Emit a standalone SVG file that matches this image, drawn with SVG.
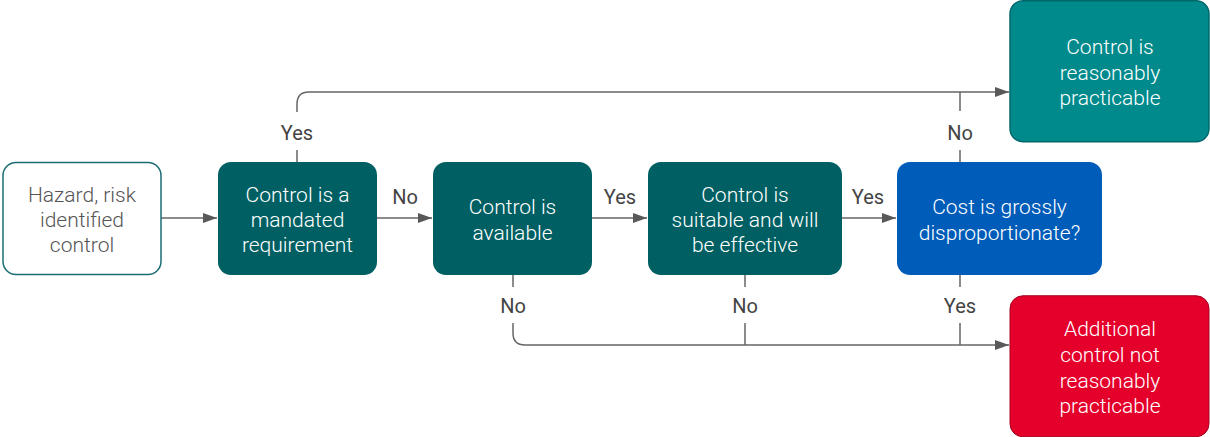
<svg xmlns="http://www.w3.org/2000/svg" width="1210" height="437" viewBox="0 0 1210 437">
<defs>
<marker id="arr" viewBox="0 0 14 10" refX="14" refY="5" markerWidth="14" markerHeight="10" markerUnits="userSpaceOnUse" orient="auto">
<path d="M0,0 L14,5 L0,10 z" fill="#595959"/>
</marker>
<style>
.n text{font-family:Roboto,"Liberation Sans",sans-serif;font-weight:300;font-size:21px;text-anchor:middle;fill:#ffffff}
.dark rect{fill:#005f63}
.c path{fill:none;stroke:#666;stroke-width:1.5}
.lbl{font-family:Roboto,"Liberation Sans",sans-serif;font-size:20px;text-anchor:middle;fill:#444}
</style>
</defs>
<rect width="1210" height="437" fill="#ffffff"/>
<g class="c" id="connectors">
<path d="M161,218 H217" marker-end="url(#arr)"/>
<path d="M377,218 H432" marker-end="url(#arr)"/>
<path d="M592,218 H647" marker-end="url(#arr)"/>
<path d="M842,218 H896" marker-end="url(#arr)"/>
<path d="M297,162 V150 M297,112 V104 Q297,92 309,92 H1009" marker-end="url(#arr)"/>
<path d="M960,162 V150 M960,111 V92"/>
<path d="M513,275 V287 M513,323 V333 Q513,345 525,345 H1009" marker-end="url(#arr)"/>
<path d="M745,275 V287 M745,323 V345"/>
<path d="M960,275 V287 M960,323 V345"/>
<text class="lbl" x="297" y="140">Yes</text>
<text class="lbl" x="960" y="140">No</text>
<text class="lbl" x="405" y="204">No</text>
<text class="lbl" x="620" y="204">Yes</text>
<text class="lbl" x="868" y="204">Yes</text>
<text class="lbl" x="513" y="313">No</text>
<text class="lbl" x="745" y="313">No</text>
<text class="lbl" x="960" y="313">Yes</text>
</g>
<g class="n" id="start">
<rect x="3" y="162.5" width="158" height="112" rx="13" fill="#ffffff" stroke="#1a6d73" stroke-width="1.5"/>
<text x="82" y="202" style="fill:#555">Hazard, risk</text>
<text x="82" y="227" style="fill:#555">identified</text>
<text x="82" y="252" style="fill:#555">control</text>
</g>
<g class="n dark" id="mandated">
<rect x="218" y="162" width="159" height="113" rx="13"/>
<text x="297.5" y="202">Control is a</text>
<text x="297.5" y="227">mandated</text>
<text x="297.5" y="252">requirement</text>
</g>
<g class="n dark" id="available">
<rect x="433" y="162" width="159" height="113" rx="13"/>
<text x="512.5" y="214">Control is</text>
<text x="512.5" y="240">available</text>
</g>
<g class="n dark" id="suitable">
<rect x="648" y="162" width="194" height="113" rx="13"/>
<text x="745" y="202">Control is</text>
<text x="745" y="227">suitable and will</text>
<text x="745" y="252">be effective</text>
</g>
<g class="n" id="cost">
<rect x="897" y="162" width="205" height="113" rx="13" fill="#005cb9"/>
<text x="999.5" y="214">Cost is grossly</text>
<text x="999.5" y="240">disproportionate?</text>
</g>
<g class="n" id="practicable">
<rect x="1010" y="0.75" width="199" height="141" rx="13" fill="#008a8c" stroke="#00686b" stroke-width="1.5"/>
<text x="1110" y="54">Control is</text>
<text x="1110" y="80">reasonably</text>
<text x="1110" y="105">practicable</text>
</g>
<g class="n" id="notpracticable">
<rect x="1010" y="295.75" width="199" height="141" rx="13" fill="#e4002b" stroke="#a3001f" stroke-width="1"/>
<text x="1110" y="336">Additional</text>
<text x="1110" y="362">control not</text>
<text x="1110" y="388">reasonably</text>
<text x="1110" y="413">practicable</text>
</g>
</svg>
